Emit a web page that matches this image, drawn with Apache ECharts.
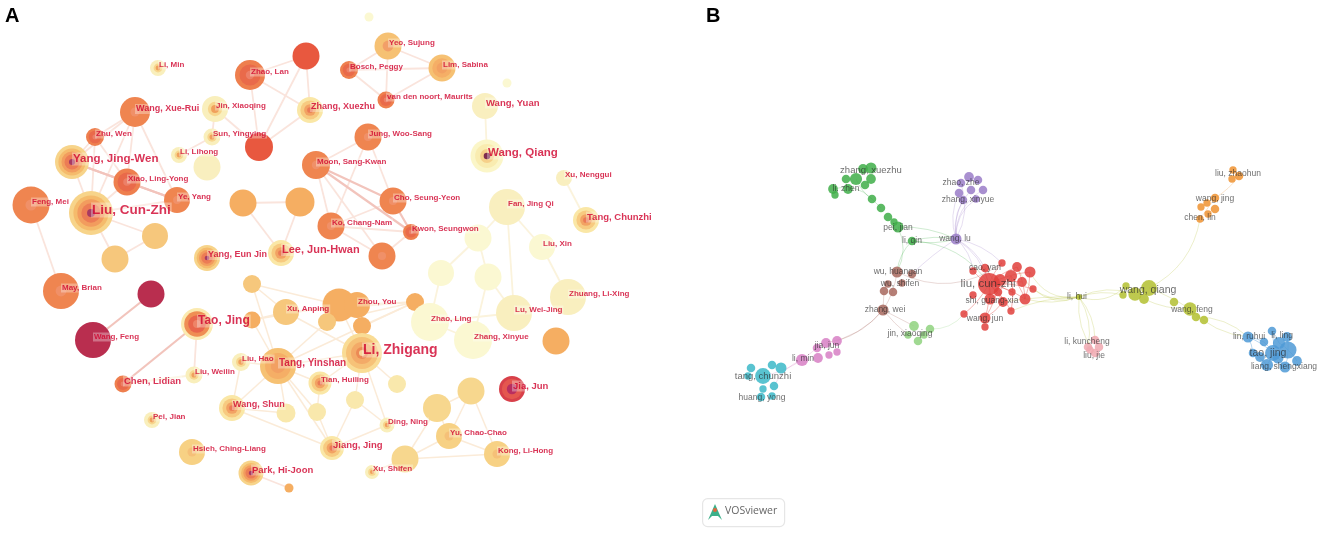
<!DOCTYPE html>
<html>
<head>
<meta charset="utf-8">
<title>Co-authorship networks</title>
<script src="https://cdn.jsdelivr.net/npm/echarts@6/dist/echarts.min.js"></script>
<style>
html,body{margin:0;padding:0;background:#fff}
#main{width:1325px;height:536px;filter:blur(0.3px)}
</style>
</head>
<body>
<div id="main"></div>
<script>
// panel A: author nodes ('#' ids are nodes without a printed name)
var aNames = ['Li, Min','Zhao, Lan','Wang, Xue-Rui','Jin, Xiaoqing','Zhu, Wen','Sun, Yingying','#red1','#pale1','Li, Lihong','Yang, Jing-Wen','Xiao, Ling-Yong','Ye, Yang','Feng, Mei','Liu, Cun-Zhi','#g1','#g2','#a1','#a2','Yang, Eun Jin','Lee, Jun-Hwan','May, Brian','#wine','Wang, Feng','Tao, Jing','#y1','#y2','#b','Xu, Anping','Zhou, You','#y3','#s','#t','Liu, Hao','Tang, Yinshan','Liu, Weilin','Chen, Lidian','Wang, Shun','Pei, Jian','Hsieh, Ching-Liang','Park, Hi-Joon','#dot','#c','Zhao, Ling','Zhang, Xinyue','Lu, Wei-Jing','Zhuang, Li-Xing','#h','#p1','#p2','Li, Zhigang','Tian, Huiling','#d','#e','#f','#i','#j','Jia, Jun','Ding, Ning','Yu, Chao-Chao','Jiang, Jing','Kong, Li-Hong','#k','Xu, Shifen','#red2','Yeo, Sujung','Bosch, Peggy','Lim, Sabina','van den noort, Maurits','Zhang, Xuezhu','Wang, Yuan','Wang, Qiang','#l','#m','Jung, Woo-Sang','Moon, Sang-Kwan','Cho, Seung-Yeon','Ko, Chang-Nam','Kwon, Seungwon','#o','Xu, Nenggui','Fan, Jing Qi','Tang, Chunzhi','Liu, Xin','#p3'];
var aX = [158,250,135,215,95,212,259,207,179,72,127,177,31,91,155,115,243,300,207,281,61,151,93,197,252,252,339,286,357,327,362,415,241,278,194,123,232,152,192,251,289,286,430,473,514,568,556,441,488,362,320,397,355,317,471,437,512,387,449,332,497,405,372,306,388,349,442,386,310,485,487,507,369,368,316,393,331,411,382,564,507,586,542,478];
var aY = [68,75,112,109,137,137,147,167,155,162,182,200,205,213,236,259,203,202,258,253,291,294,340,324,284,320,305,312,305,322,326,302,362,366,375,384,408,420,452,473,488,413,322,340,313,297,341,273,277,353,383,384,400,412,391,408,389,425,436,448,454,459,472,56,46,70,68,100,110,106,156,83,17,137,165,201,226,232,256,178,207,220,247,238];
var aSize = [16,30,30,26,18,17,28,27,16,34,27,26,37,44,26,27,27,29,26,26,36,27,36,32,18,17,33,26,26,18,18,18,18,36,17,17,26,16,26,25,9,19,38,38,36,36,27,26,27,40,23,18,18,18,27,28,26,15,26,24,26,27,14,27,27,18,27,17,26,26,33,9,9,27,28,27,27,16,27,16,36,26,26,27];
var aRing = ['paleDot','hot','orange','paleDot','hot','paleDot','red','pale','paleDot','full','hot','orange','orange','full','gold','gold','amber','amber','full','goldRing','orange','wine','wine','tao','gold','amber','amber','gold','amber','gold','amber','amber','paleDot','amberRing','paleDot','hot','goldRing','paleDot','goldDot','full','amber','pale2','cream','cream','pale','pale','amber','cream','cream','liRing','goldRing','pale2','pale2','pale2','sand','sand','jia','paleDot','goldDot','goldRing','goldDot','sand','paleDot','red','amberDot','hot','amberRing','hot','goldRing','pale','wq','cream','cream','orange','orange','orange','orange','hot','orange','pale','pale','goldRing','cream','cream'];

// panel A: links, by node name
var aLinksWarm = [['Wang, Xue-Rui','Zhu, Wen'],['Wang, Xue-Rui','Liu, Cun-Zhi'],['Wang, Xue-Rui','Ye, Yang'],['Wang, Xue-Rui','Xiao, Ling-Yong'],['Wang, Xue-Rui','Yang, Jing-Wen'],['Zhu, Wen','Yang, Jing-Wen'],['Zhu, Wen','Xiao, Ling-Yong'],['Zhu, Wen','Liu, Cun-Zhi'],['Yang, Jing-Wen','Liu, Cun-Zhi'],['Xiao, Ling-Yong','Liu, Cun-Zhi'],['Liu, Cun-Zhi','Ye, Yang'],['Feng, Mei','May, Brian'],['Liu, Cun-Zhi','#g1'],['Liu, Cun-Zhi','#g2'],['#g1','#g2'],['Zhao, Lan','#red1'],['Zhao, Lan','Zhang, Xuezhu'],['Zhao, Lan','#red2'],['#red2','#red1'],['#red2','Zhang, Xuezhu'],['#red1','Zhang, Xuezhu'],['Jin, Xiaoqing','#red1'],['Jin, Xiaoqing','Sun, Yingying'],['Sun, Yingying','Li, Lihong'],['#a1','#a2'],['#a1','Lee, Jun-Hwan'],['#a2','Lee, Jun-Hwan'],['Yeo, Sujung','Bosch, Peggy'],['Yeo, Sujung','Lim, Sabina'],['Yeo, Sujung','van den noort, Maurits'],['Bosch, Peggy','Lim, Sabina'],['Bosch, Peggy','van den noort, Maurits'],['Lim, Sabina','van den noort, Maurits'],['Jung, Woo-Sang','Moon, Sang-Kwan'],['Jung, Woo-Sang','Cho, Seung-Yeon'],['Jung, Woo-Sang','Ko, Chang-Nam'],['Moon, Sang-Kwan','Ko, Chang-Nam'],['Moon, Sang-Kwan','#o'],['Ko, Chang-Nam','Kwon, Seungwon'],['Ko, Chang-Nam','#o'],['Ko, Chang-Nam','Cho, Seung-Yeon'],['Kwon, Seungwon','#o'],['Tao, Jing','Liu, Weilin'],['Park, Hi-Joon','#dot']];
var aLinksStrong = [['Yang, Jing-Wen','Xiao, Ling-Yong'],['Yang, Jing-Wen','Ye, Yang'],['Xiao, Ling-Yong','Ye, Yang'],['Moon, Sang-Kwan','Cho, Seung-Yeon'],['Moon, Sang-Kwan','Kwon, Seungwon'],['Cho, Seung-Yeon','Kwon, Seungwon'],['Wang, Feng','#wine'],['Tao, Jing','Chen, Lidian']];
var aLinksPale = [['Wang, Yuan','Wang, Qiang'],['Xu, Nenggui','Tang, Chunzhi'],['Fan, Jing Qi','Liu, Xin'],['Fan, Jing Qi','#p3'],['Fan, Jing Qi','Lu, Wei-Jing'],['Liu, Xin','Zhuang, Li-Xing'],['#p1','Zhao, Ling'],['#p2','Zhang, Xinyue'],['#p3','#p1'],['#p3','#p2'],['Lu, Wei-Jing','#p2'],['Zhao, Ling','Zhang, Xinyue'],['Zhao, Ling','Lu, Wei-Jing'],['Chen, Lidian','Liu, Weilin']];
var aLinksFan = [['Li, Zhigang','Tang, Yinshan'],['Li, Zhigang','Xu, Anping'],['Li, Zhigang','Zhou, You'],['Li, Zhigang','#b'],['Li, Zhigang','#s'],['#t','Tang, Yinshan'],['#t','Xu, Anping'],['#t','Zhou, You'],['#t','#b'],['#t','#y3'],['#t','#s'],['#y1','Tang, Yinshan'],['#y1','Xu, Anping'],['#y1','#b'],['#y2','Tang, Yinshan'],['#y2','Xu, Anping'],['#y2','#b'],['#y3','Tang, Yinshan'],['Tang, Yinshan','Wang, Shun'],['Tang, Yinshan','Tian, Huiling'],['Tang, Yinshan','Jiang, Jing'],['Tang, Yinshan','#c'],['Tang, Yinshan','#f'],['Liu, Hao','Tang, Yinshan'],['Liu, Hao','Wang, Shun'],['Wang, Shun','Jiang, Jing'],['Wang, Shun','#c'],['Li, Zhigang','Tian, Huiling'],['Li, Zhigang','#d'],['Li, Zhigang','Ding, Ning'],['Li, Zhigang','#e'],['#e','Jiang, Jing'],['#e','Ding, Ning'],['Ding, Ning','Jiang, Jing'],['Tian, Huiling','#f'],['#f','Jiang, Jing'],['Yu, Chao-Chao','Kong, Li-Hong'],['Yu, Chao-Chao','#i'],['Yu, Chao-Chao','#j'],['Yu, Chao-Chao','#k'],['#k','Kong, Li-Hong'],['Kong, Li-Hong','#i'],['#j','#k'],['#j','#i'],['#k','Xu, Shifen']];

// panel B: clusters as [x, y, weight]
var bRed = [[989,284,18],[973,271,6],[985,268,7],[1002,263,6],[1017,267,8],[1030,272,9],[1011,276,10],[1000,280,10],[1022,282,8],[1033,289,6],[1012,292,6],[998,292,7],[973,295,6],[990,299,9],[1003,302,8],[1025,299,9],[1011,311,6],[964,314,6],[985,318,9],[985,327,6]];
var bGreen = [[863,169,8],[871,168,9],[856,179,10],[846,179,7],[871,179,8],[865,185,7],[833,189,8],[848,189,8],[835,195,6],[872,199,7],[881,208,7],[888,217,7],[894,222,6],[898,227,9],[912,241,7]];
var bPurple = [[969,177,8],[961,183,7],[978,180,7],[959,193,7],[971,190,7],[983,190,7],[963,200,7],[976,199,6],[956,239,9]];
var bBrown = [[897,272,9],[912,274,7],[888,284,6],[902,283,6],[884,291,7],[893,292,7],[883,310,9]];
var bLime = [[914,326,8],[930,329,7],[908,335,6],[918,341,7],[924,335,6]];
var bOrchid = [[826,343,8],[837,341,8],[817,348,7],[829,355,6],[837,352,6],[818,358,8],[802,360,10]];
var bCyan = [[772,365,7],[781,368,9],[751,368,7],[763,376,13],[748,376,6],[774,386,7],[763,389,6],[772,396,6],[761,397,7]];
var bOlive = [[1079,297,5],[1126,286,6],[1123,295,6],[1135,294,11],[1149,288,13],[1144,299,8],[1174,302,7],[1190,309,11],[1196,317,7],[1204,320,7]];
var bOrange = [[1233,170,6],[1239,176,7],[1232,179,6],[1215,198,7],[1207,203,6],[1201,207,6],[1215,209,7],[1208,214,6],[1200,219,6]];
var bRose = [[1095,340,7],[1088,347,7],[1099,347,7],[1095,353,7],[1090,350,6]];
var bBlue = [[1248,337,9],[1272,331,7],[1287,337,8],[1264,342,7],[1279,343,10],[1253,353,7],[1273,353,13],[1288,350,14],[1297,361,8],[1267,365,10],[1285,367,9],[1278,358,9],[1260,357,8]];

// panel B: links as [cluster, node, cluster, node, bend]
var bLinks = [
  ['bPurple',8,'bPurple',1,-0.22],['bPurple',8,'bPurple',3,0.2],['bPurple',8,'bPurple',4,0.25],['bPurple',8,'bPurple',5,0.3],['bPurple',8,'bPurple',6,0.16],['bPurple',8,'bPurple',7,0.28],
  ['bPurple',8,'bRed',1,0.2],['bPurple',8,'bRed',2,0.16],['bPurple',8,'bRed',0,0.2],['bPurple',8,'bRed',3,0.16],
  ['bGreen',14,'bPurple',8,0.12],['bGreen',14,'bPurple',8,-0.12],['bGreen',13,'bPurple',8,0.12],
  ['bGreen',14,'bRed',0,0.25],['bGreen',13,'bBrown',0,0.25],['bGreen',14,'bBrown',0,-0.18],['bPurple',8,'bBrown',1,-0.05],
  ['bGreen',9,'bGreen',6,-0.3],['bGreen',9,'bGreen',2,0.15],['bGreen',10,'bGreen',9,0],
  ['bBrown',0,'bRed',3,-0.3],['bBrown',0,'bBrown',6,0.12],['bBrown',4,'bBrown',6,0],
  ['bBrown',6,'bOrchid',1,0.15],['bBrown',6,'bOrchid',0,0.18],['bBrown',6,'bLime',0,0],['bBrown',6,'bLime',2,-0.05],
  ['bLime',1,'bRed',17,-0.25],
  ['bOrchid',6,'bCyan',3,0.1],['bOrchid',6,'bCyan',5,-0.2],['bOrchid',6,'bOrchid',2,0],
  ['bOlive',0,'bRed',5,0.35],['bOlive',0,'bRed',9,0.3],['bOlive',0,'bRed',15,0.15],['bOlive',0,'bRed',16,-0.1],['bOlive',0,'bRed',14,-0.05],['bOlive',0,'bRed',4,0.4],
  ['bOlive',0,'bOlive',1,-0.3],['bOlive',0,'bOlive',3,0.2],['bOlive',0,'bOlive',2,0.15],
  ['bOlive',0,'bRose',0,0.18],['bOlive',0,'bRose',1,0.2],['bOlive',0,'bRose',3,-0.2],
  ['bOlive',4,'bOrange',8,-0.25],['bOlive',4,'bOlive',7,0.05],['bOlive',5,'bOlive',7,-0.12],
  ['bOlive',7,'bBlue',0,-0.18],['bOlive',8,'bBlue',0,0.2],['bOrange',3,'bOrange',1,-0.1],['bOrange',8,'bOrange',3,0]
];
var bRedInner = [[0,1],[0,2],[0,3],[0,4],[0,5],[0,8],[0,9],[0,10],[0,13],[0,14],[0,15],[0,16],[0,17],[0,18],[6,13],[6,15],[6,16],[7,18],[14,18],[2,14],[4,15],[5,15]];
var bBlueInner = [[0,6],[0,3],[1,4],[1,6],[2,7],[3,6],[4,7],[5,9],[6,10],[7,8],[6,9],[0,5],[7,10]];

var bLabels = ['zhang, xuezhu','li, zhen','zhao, zhe','zhang, xinyue','pei, jian','li, qin','wang, lu','cao, yan','liu, cun-zhi','shi, guang-xia','wang, jun','wu, huangan','wu, shifen','zhang, wei','jin, xiaoqing','jia, jun','li, min','tang, chunzhi','huang, yong','liu, zhaohun','wang, jing','chen, lin','wang, qiang','li, hui','wang, feng','lin, ruhui','li, ling','tao, jing','liang, shengxiang','li, kuncheng','liu, jie'];
var bLabelX = [871,846,961,968,898,912,955,985,988,992,985,898,900,885,910,827,803,763,762,1238,1215,1200,1148,1077,1192,1249,1282,1268,1284,1087,1094];
var bLabelY = [170,189,183,200,228,241,239,268,284,301,319,272,284,310,334,346,359,376,398,174,199,218,290,297,310,337,336,353,367,342,356];

// styling
var ringStyles = {
  pale:[[1,'#f9efbf']],
  pale2:[[1,'#f9e8ac']],
  cream:[[1,'#fbf8d2']],
  sand:[[1,'#f7d78e']],
  gold:[[1,'#f6c77c']],
  amber:[[1,'#f5ae62']],
  orange:[[1,'#ef8550'],[0.3,'#f09068']],
  red:[[1,'#e8583f']],
  wine:[[1,'#b92e4f']],
  hot:[[1,'#ee7f4e'],[0.7,'#e96a4a'],[0.28,'#ec8068']],
  paleDot:[[1,'#f9efbc'],[0.55,'#f7d68e'],[0.3,'#f0a05c']],
  goldDot:[[1,'#f7d184'],[0.35,'#f5c078']],
  goldRing:[[1,'#fae7a6'],[0.74,'#f7ca80'],[0.45,'#f2a263'],[0.22,'#ea7a55']],
  amberRing:[[1,'#f6c173'],[0.72,'#f5ae66'],[0.4,'#f2a062']],
  amberDot:[[1,'#f6c173'],[0.4,'#f29f68']],
  full:[[1,'#f7d48a'],[0.8,'#f5bb6c'],[0.62,'#f29c5e'],[0.44,'#ec7c55'],[0.18,'#a83a62']],
  tao:[[1,'#fbeab0'],[0.8,'#ef8e54'],[0.55,'#e9664c'],[0.25,'#ee8468']],
  liRing:[[1,'#f9dc95'],[0.8,'#f6c278'],[0.55,'#f3aa68'],[0.3,'#ec8a55'],[0.15,'#f8d49a']],
  wq:[[1,'#fbf6c8'],[0.72,'#f9ecb0'],[0.42,'#f6d08a'],[0.2,'#7e2b4f']],
  jia:[[1,'#d8404a'],[0.78,'#e4574f'],[0.4,'#b92e5f']]
};
var clusterColors = {bRed:'#e0403c',bGreen:'#3fae49',bPurple:'#9a7cc8',bBrown:'#a8695e',bLime:'#8fd27f',bOrchid:'#d77fc4',bCyan:'#3cb8c8',bOlive:'#b3c030',bOrange:'#ee9230',bRose:'#f0a8b0',bBlue:'#4f9ad6'};
var clusters = {bRed:bRed,bGreen:bGreen,bPurple:bPurple,bBrown:bBrown,bLime:bLime,bOrchid:bOrchid,bCyan:bCyan,bOlive:bOlive,bOrange:bOrange,bRose:bRose,bBlue:bBlue};
var labelFont = {'Liu, Cun-Zhi':13.5,'Li, Zhigang':14,'Yang, Jing-Wen':11.5,'Wang, Qiang':11.5,'Tao, Jing':12,'Lee, Jun-Hwan':11,'Tang, Yinshan':10,'Chen, Lidian':9.5,'Jiang, Jing':9.5,'Jia, Jun':9.5,'Park, Hi-Joon':9.5,'Wang, Yuan':9.5,'Tang, Chunzhi':9.5,'Wang, Shun':9,'Zhang, Xuezhu':9,'Wang, Xue-Rui':9,'Yang, Eun Jin':9};
var bLabelFont = {'liu, cun-zhi':11.5,'wang, qiang':10.5,'tao, jing':10.5,'tang, chunzhi':9.5,'zhang, xuezhu':9.5};

// nodes of A: one point per ring, outer ring first
var aDiscs = [];
aNames.forEach(function (n, i) {
  ringStyles[aRing[i]].forEach(function (r) {
    aDiscs.push({value:[aX[i], aY[i], aSize[i] * r[0]], itemStyle:{color:r[1]}});
  });
});
var aLabelData = [];
aNames.forEach(function (n, i) {
  if (n.charAt(0) === '#') return;
  aLabelData.push({
    value:[aX[i], aY[i]], name:n,
    label:{fontSize:labelFont[n] || 8}
  });
});

// invisible graph nodes that carry the links of A
var aGraphNodes = aNames.map(function (n, i) { return {name:n, value:[aX[i], aY[i]]}; });
function aGraph(links, color, width) {
  return {
    type:'graph', coordinateSystem:'cartesian2d', layout:'none', silent:true, z:1,
    symbolSize:0, data:aGraphNodes,
    edges:links.map(function (l) { return {source:l[0], target:l[1]}; }),
    lineStyle:{color:color, width:width, opacity:1}
  };
}

// graph of B
var bNodes = [], bDiscs = [];
Object.keys(clusters).forEach(function (k) {
  clusters[k].forEach(function (p, i) {
    bNodes.push({name:k + i, value:[p[0], p[1]]});
    bDiscs.push({value:p, itemStyle:{color:clusterColors[k]}});
  });
});
var bEdges = bLinks.map(function (l) {
  return {source:l[0] + l[1], target:l[2] + l[3],
    lineStyle:{color:clusterColors[l[0]], curveness:l[4], opacity:0.25, width:1}};
});
bRedInner.forEach(function (l) {
  bEdges.push({source:'bRed' + l[0], target:'bRed' + l[1], lineStyle:{color:'#e8605a', curveness:0.1, opacity:0.45, width:1}});
});
bBlueInner.forEach(function (l) {
  bEdges.push({source:'bBlue' + l[0], target:'bBlue' + l[1], lineStyle:{color:'#7fb6e4', curveness:0.1, opacity:0.55, width:1}});
});

var option = {
  animation:false,
  backgroundColor:'#fff',
  grid:{left:0, right:0, top:0, bottom:0},
  xAxis:{type:'value', min:0, max:1325, show:false},
  yAxis:{type:'value', min:0, max:536, inverse:true, show:false},
  title:[
    {text:'A', left:0, top:1, textStyle:{fontFamily:'Liberation Sans', fontWeight:'bold', fontSize:20, color:'#000'}},
    {text:'B', left:701, top:1, textStyle:{fontFamily:'Liberation Sans', fontWeight:'bold', fontSize:20, color:'#000'}}
  ],
  graphic:[
    {type:'rect', left:702, top:498, silent:true, shape:{width:82, height:28, r:5}, style:{fill:'#fff', stroke:'#e6e6e6', lineWidth:1.2}},
    {type:'polygon', silent:true, shape:{points:[[708,520],[715,504],[722,520],[718,516],[712,516]]}, style:{fill:'#3cb08a'}},
    {type:'circle', silent:true, shape:{cx:715, cy:510, r:2}, style:{fill:'#e0663c'}},
    {type:'text', left:725, top:506, silent:true, style:{text:'VOSviewer', fontFamily:'Open Sans', fontSize:10.5, fill:'#666'}}
  ],
  series:[
    aGraph(aLinksPale, '#fbf3dc', 1.8),
    aGraph(aLinksFan, '#fbebd8', 1.5),
    aGraph(aLinksWarm, '#fae4dc', 1.8),
    aGraph(aLinksStrong, '#f2c4bc', 2.2),
    {
      type:'scatter', silent:true, z:2, data:aDiscs, itemStyle:{opacity:1},
      symbolSize:function (v) { return v[2]; }
    },
    {
      type:'scatter', silent:true, z:3, data:aLabelData, symbolSize:0,
      label:{
        show:true, position:'right', distance:0, offset:[0,-3],
        formatter:'{b}', fontFamily:'Liberation Sans', fontWeight:'bold', color:'#d0002c',
        backgroundColor:'rgba(255,255,255,0.4)', padding:[1,1,0,1]
      }
    },
    {
      type:'graph', coordinateSystem:'cartesian2d', layout:'none', silent:true, z:1,
      symbolSize:0, data:bNodes, edges:bEdges
    },
    {
      type:'scatter', silent:true, z:2, data:bDiscs, itemStyle:{opacity:0.85},
      symbolSize:function (v) { return v[2] * 1.22; }
    },
    {
      type:'scatter', silent:true, z:3, symbolSize:0,
      data:bLabels.map(function (t, i) {
        return {value:[bLabelX[i], bLabelY[i]], name:t, label:{fontSize:bLabelFont[t] || 8.5}};
      }),
      label:{show:true, position:'inside', formatter:'{b}', fontFamily:'Liberation Sans', color:'rgba(40,40,40,0.85)'}
    }
  ]
};

var myChart = echarts.init(document.getElementById('main'));
myChart.setOption(option);
</script>
</body>
</html>
